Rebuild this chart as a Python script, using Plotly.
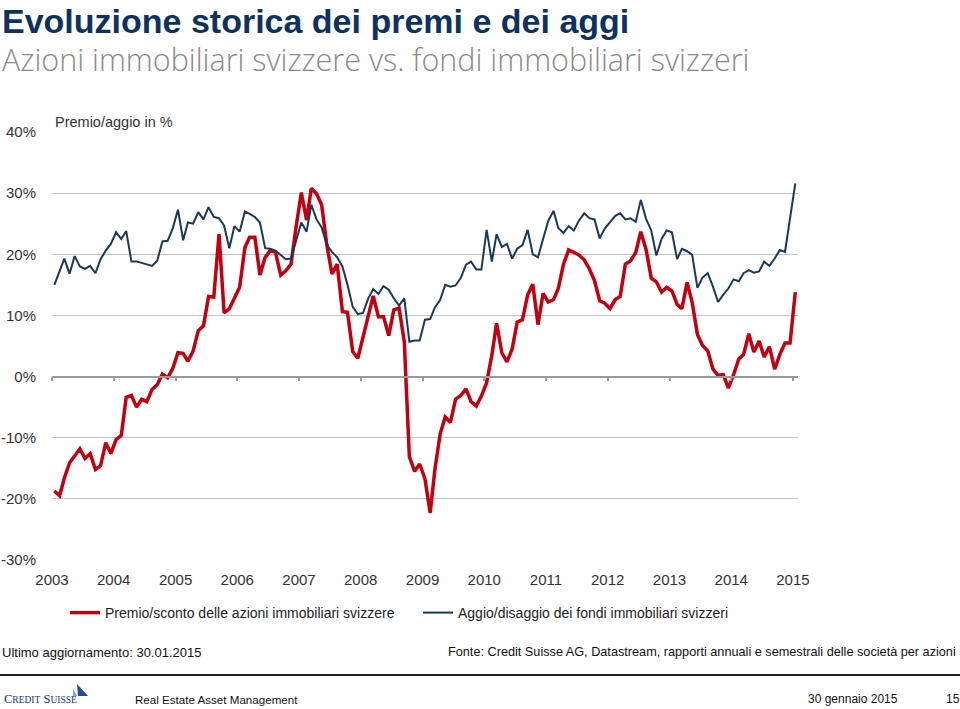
import pandas as pd
import plotly.graph_objects as go

# ---------------- data ----------------
years = [str(y) for y in range(2003, 2016)]
year_ticks = [f"{y}-01-01" for y in range(2003, 2016)]
y_ticks = [-30, -20, -10, 0, 10, 20, 30, 40]
y_tick_labels = ["-30%", "-20%", "-10%", "0%", "10%", "20%", "30%", "40%"]

# monthly observations, Jan 2003 .. Jan 2015 (mid-month)
dates = pd.date_range("2003-01-01", periods=145, freq="MS") + pd.Timedelta(days=14)

premio_azioni = [
    -18.7, -19.5, -16.6, -14.1, -13.0, -11.8, -13.4, -12.6, -15.2, -14.6, -10.8, -12.6,  # 2003
    -10.3, -9.6, -3.4, -3.1, -5.0, -3.7, -4.1, -2.1, -1.3, 0.4, -0.2, 1.3,              # 2004
    3.9, 3.8, 2.5, 4.2, 7.5, 8.3, 13.1, 13.0, 23.3, 10.4, 11.1, 12.7,                     # 2005
    14.6, 21.1, 22.8, 22.8, 16.6, 19.5, 20.6, 20.3, 16.6, 17.3, 18.4, 24.5,               # 2006
    30.1, 25.6, 30.8, 29.9, 28.1, 21.5, 16.8, 18.4, 10.6, 10.5, 4.1, 3.0,                 # 2007
    6.5, 9.8, 13.2, 9.8, 9.8, 6.7, 10.9, 11.2, 5.7, -13.1, -15.5, -14.3,                  # 2008
    -16.7, -22.3, -15.2, -9.4, -6.6, -7.5, -3.7, -3.1, -2.0, -4.1, -4.8, -3.2,            # 2009
    -1.0, 3.5, 8.7, 3.9, 2.4, 4.5, 8.9, 9.3, 13.4, 15.1, 8.5, 13.6,                       # 2010
    12.2, 12.6, 14.4, 18.4, 20.7, 20.3, 19.9, 19.1, 17.6, 15.7, 12.4, 12.0,               # 2011
    11.1, 12.6, 13.1, 18.4, 18.9, 20.3, 23.7, 20.8, 16.1, 15.5, 13.8, 14.6,               # 2012
    14.0, 11.8, 11.1, 15.4, 12.1, 6.9, 5.1, 4.2, 1.2, 0.2, 0.3, -1.9,                     # 2013
    0.3, 2.9, 3.6, 7.0, 4.0, 5.8, 3.2, 4.9, 1.2, 3.6, 5.5, 5.5,                           # 2014
    13.8,                                                                                 # 2015
]

aggio_fondi = [
    15.0, 17.1, 19.3, 16.8, 19.7, 18.0, 17.6, 18.1, 16.9, 19.2, 20.6, 21.7,               # 2003
    23.6, 22.5, 23.8, 18.8, 18.8, 18.6, 18.4, 18.1, 19.0, 22.1, 22.2, 24.2,               # 2004
    27.3, 22.3, 25.2, 25.0, 26.9, 25.7, 27.7, 26.1, 25.9, 24.7, 21.0, 24.6,               # 2005
    23.7, 27.0, 26.6, 26.1, 25.2, 21.0, 20.9, 20.6, 19.9, 19.2, 19.3, 22.3,               # 2006
    25.2, 23.7, 28.1, 25.7, 24.4, 21.5, 20.4, 19.5, 18.0, 15.0, 11.4, 10.2,               # 2007
    10.4, 12.8, 14.3, 13.5, 14.8, 14.2, 12.8, 11.6, 12.8, 5.7, 5.9, 5.9,                  # 2008
    9.3, 9.4, 11.3, 12.5, 15.0, 14.7, 14.9, 16.1, 18.3, 18.8, 17.5, 17.5,                 # 2009
    24.0, 18.8, 23.3, 21.2, 21.7, 19.3, 20.9, 21.5, 24.0, 20.0, 19.5, 22.5,               # 2010
    25.5, 27.1, 24.3, 23.5, 24.6, 23.9, 25.5, 26.7, 25.9, 25.7, 22.6, 24.2,               # 2011
    25.3, 26.3, 26.7, 25.7, 25.9, 25.3, 28.9, 25.8, 23.9, 19.8, 22.5, 23.9,               # 2012
    23.6, 19.2, 20.9, 20.5, 19.9, 14.5, 16.2, 16.9, 14.7, 12.2, 13.4, 14.4,               # 2013
    15.9, 15.6, 16.9, 17.4, 17.0, 17.2, 18.8, 18.1, 19.3, 20.7, 20.4, 26.0,               # 2014
    31.6,                                                                                 # 2015
]

name_azioni = "Premio/sconto delle azioni immobiliari svizzere"
name_fondi = "Aggio/disaggio dei fondi immobiliari svizzeri"
title_text = "Evoluzione storica dei premi e dei aggi"
subtitle_text = "Azioni immobiliari svizzere vs. fondi immobiliari svizzeri"

# ---------------- layout helpers ----------------
W, H = 960, 709
L, R, T, B = 52, 798, 132, 560
Y_MIN, Y_MAX = -30, 40
X_RANGE = ["2003-01-01", "2015-01-31"]


def px(x):
    return (x - L) / (R - L)


def py(y):
    return (B - y) / (B - T)


FONT = "Liberation Sans, Arial, Helvetica, sans-serif"
RED = "#c3000f"
NAVY = "#1b3859"

fig = go.Figure()
fig.add_trace(go.Scatter(
    x=dates, y=premio_azioni, name=name_azioni, mode="lines",
    line=dict(color=RED, width=3.5), xaxis="x", yaxis="y",
))
fig.add_trace(go.Scatter(
    x=dates, y=aggio_fondi, name=name_fondi, mode="lines",
    line=dict(color=NAVY, width=2), xaxis="x2", yaxis="y",
))


def note(text, x, y, size=13, color="#111111", family=FONT, xanchor="left", yanchor="middle",
         borderpad=1, **kw):
    return dict(text=text, x=px(x), y=py(y), xref="paper", yref="paper",
                xanchor=xanchor, yanchor=yanchor, showarrow=False, borderpad=borderpad,
                align="left", font=dict(family=family, size=size, color=color, **kw))


header = (
    f"<span style='font-size:34px;font-weight:bold;color:#0d3261'>{title_text}</span><br>"
    f"<span style='font-family:\"Open Sans\", Roboto, sans-serif;font-weight:300;"
    f"font-size:30.5px;color:#8a8a8a'>{subtitle_text}</span>"
)

annotations = [
    note(header, 1, 0.5, size=29.5, color="#0d3261", yanchor="top", borderpad=0),
    note("Premio/aggio in %", 53, 122, size=14.5, color="#333333"),
    note("Ultimo aggiornamento: 30.01.2015", 0, 652),
    note("Fonte: Credit Suisse AG, Datastream, rapporti annuali e semestrali delle società per azioni",
         958, 652, size=12.7, xanchor="right"),
    note("C<span style='font-size:9.5px'>REDIT</span> S<span style='font-size:9.5px'>UISSE</span>",
         2, 699, size=12.5, color="#0c3a78", family="Liberation Serif, DejaVu Serif, serif"),
    note("Real Estate Asset Management", 133, 699, size=11.6),
    note("30 gennaio 2015", 806, 699, size=12),
    note("15", 944, 699, size=12),
]


def path(points):
    return "M " + " L ".join(f"{px(a):.5f},{py(b):.5f}" for a, b in points) + " Z"


shapes = [
    dict(type="line", xref="paper", yref="paper", x0=px(0), x1=px(960), y0=py(675), y1=py(675),
         line=dict(color="#222222", width=2)),
    dict(type="path", xref="paper", yref="paper", path=path([(77, 684), (88, 696), (78, 696)]),
         fillcolor="#1f4f9a", line=dict(width=0)),
    dict(type="path", xref="paper", yref="paper", path=path([(73, 689), (77, 696), (73, 696)]),
         fillcolor="#7aa3d6", line=dict(width=0)),
]

fig.update_layout(
    width=W, height=H,
    margin=dict(l=L, r=W - R, t=T, b=H - B, autoexpand=False),
    paper_bgcolor="white", plot_bgcolor="white",
    font=dict(family=FONT, color="#333333"),
    showlegend=True,
    legend=dict(orientation="h", x=px(65), y=py(613), xanchor="left", yanchor="middle",
                font=dict(family=FONT, size=14, color="#222222"),
                itemwidth=30, entrywidth=308, entrywidthmode="pixels",
                bgcolor="rgba(0,0,0,0)", borderwidth=0),
    xaxis=dict(range=X_RANGE, type="date", tickmode="array", tickvals=year_ticks, ticktext=years,
               ticks="outside", ticklen=6, tickcolor="rgba(0,0,0,0)", showgrid=False,
               showline=False, zeroline=False, tickfont=dict(family=FONT, size=15, color="#333333")),
    xaxis2=dict(range=X_RANGE, type="date", overlaying="x", anchor="free",
                position=(0 - Y_MIN) / (Y_MAX - Y_MIN), side="bottom",
                tickmode="array", tickvals=year_ticks, showticklabels=False,
                ticks="outside", ticklen=4, tickwidth=1.5, tickcolor="#9a9a9a",
                showline=True, linecolor="#9a9a9a", linewidth=1.5,
                showgrid=False, zeroline=False),
    yaxis=dict(range=[Y_MIN, Y_MAX], tickmode="array", tickvals=y_ticks, ticktext=y_tick_labels,
               showgrid=True, gridcolor="#c4c4c4", gridwidth=1, zeroline=False, showline=False,
               ticks="outside", ticklen=12, tickcolor="rgba(0,0,0,0)",
               tickfont=dict(family=FONT, size=15, color="#333333")),
    annotations=annotations,
    shapes=shapes,
    hovermode=False,
)

fig.write_html("out.html", config={"displayModeBar": False},
               post_script="document.body.style.margin='0';")
